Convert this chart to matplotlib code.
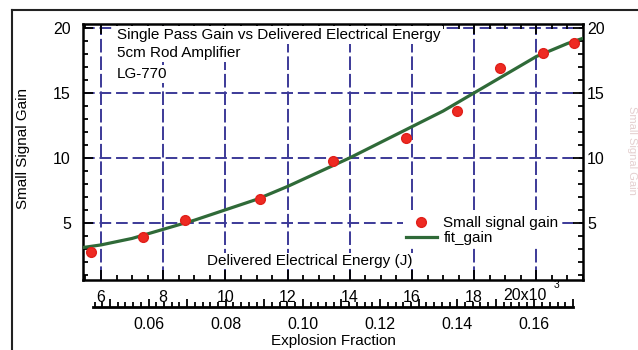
import numpy as np
import matplotlib.pyplot as plt
from matplotlib.lines import Line2D
from matplotlib.ticker import MultipleLocator, FixedLocator, FuncFormatter

plt.rcParams['font.family'] = ['Liberation Sans', 'DejaVu Sans']

# measured points (delivered energy in J, small signal gain)
energy = [5680, 7350, 8700, 11110, 13460, 15810, 17450, 18840, 20200, 21200]
gain = [2.77, 3.92, 5.23, 6.85, 9.77, 11.54, 13.6, 16.9, 18.1, 18.85]

# fit curve
fit_energy = [5420, 6000, 7000, 8000, 9000, 10000, 11000, 12000, 13000,
              14000, 15000, 16000, 17000, 18000, 19000, 20000, 21000, 21500]
fit_gain = [3.1, 3.3, 3.8, 4.5, 5.2, 6.0, 6.8, 7.8, 8.9,
            10.0, 11.2, 12.4, 13.6, 15.0, 16.4, 17.8, 18.8, 19.2]

energy_ticks = [6000, 8000, 10000, 12000, 14000, 16000, 18000]
energy_labels = ['6', '8', '10', '12', '14', '16', '18']
gain_ticks = [5, 10, 15, 20]
frac_ticks = [0.06, 0.08, 0.10, 0.12, 0.14, 0.16]
title_lines = ['Single Pass Gain vs Delivered Electrical Energy',
               '5cm Rod Amplifier', 'LG-770']

W, H = 638, 350
fs = 11
tfs = 11.5
fig = plt.figure(figsize=(W / 100, H / 100), dpi=100)

gridc = '#3c3a98'
ax = fig.add_axes([83 / W, (H - 280) / H, 500 / W, 256 / H])
ax.set_xlim(5420, 21500)
ax.set_ylim(0.6, 20.3)

for e in energy_ticks + [20000]:
    ax.axvline(e, color=gridc, lw=1.4, ls=(0, (7, 2)), zorder=1)
for g in gain_ticks:
    ax.axhline(g, color=gridc, lw=1.4, ls=(0, (6, 2.5)), zorder=1)

ax.plot(fit_energy, fit_gain, color='#2f6a38', lw=2.3, zorder=3, label='fit_gain')
ax.plot(energy, gain, ls='none', marker='o', ms=7, color='#ee2a22',
        mec='#e0201a', zorder=4, label='Small signal gain')

for s in ax.spines.values():
    s.set_linewidth(1.8)

ax.xaxis.set_major_locator(FixedLocator(energy_ticks + [20000]))
ax.xaxis.set_minor_locator(MultipleLocator(500))
ax.set_xticklabels(energy_labels + [''])
ax.yaxis.set_major_locator(FixedLocator(gain_ticks))
ax.yaxis.set_minor_locator(MultipleLocator(1))
ax.set_yticklabels([str(g) for g in gain_ticks])
ax.tick_params(which='both', direction='in', top=True, right=True,
               labelright=True, width=1.3, labelsize=tfs)
ax.tick_params(which='major', length=7)
ax.tick_params(which='minor', length=3.5)
ax.tick_params(axis='x', pad=7.5)
ax.tick_params(axis='y', pad=3)
for t in ax.yaxis.get_major_ticks():
    t.label1.set_x(-8 / 500)

ax.annotate('20x10', xy=(20000, 0), xycoords=('data', 'axes fraction'),
            xytext=(-8.5, -11), textcoords='offset points', ha='center',
            va='center', fontsize=tfs)
ax.annotate('3', xy=(20000, 0), xycoords=('data', 'axes fraction'),
            xytext=(14.5, -3.6), textcoords='offset points', ha='center',
            va='center', fontsize=7.5)

for txt, yp in zip(title_lines, [35, 53, 74]):
    ax.text(0.068, (280 - yp) / 256, txt, transform=ax.transAxes, fontsize=fs,
            va='center', ha='left', zorder=5,
            bbox=dict(fc='white', ec='none', pad=1.5))

ax.text(0.454, 0.074, 'Delivered Electrical Energy (J)', transform=ax.transAxes,
        fontsize=fs, ha='center', va='center', zorder=5,
        bbox=dict(fc='white', ec='none', pad=1))

ax.set_ylabel('Small Signal Gain', fontsize=fs)
ax.yaxis.label.set_va('center')
ax.yaxis.set_label_coords(-0.12, 0.512)

h, l = ax.get_legend_handles_labels()
leg = ax.legend(h[::-1], l[::-1], loc='upper left', bbox_to_anchor=(0.64, 0.26),
                fontsize=fs, frameon=True, fancybox=False, framealpha=1,
                edgecolor='none', numpoints=1, handlelength=2.0,
                handletextpad=0.45, labelspacing=0.05, borderpad=0.2,
                borderaxespad=0)
leg.set_zorder(6)

# explosion fraction axis below the plot
ax2 = fig.add_axes([93 / W, (H - 307) / H, 480 / W, 0.0001])
ax2.set_xlim(0.0456, 0.1700)
for k in ['top', 'left', 'right']:
    ax2.spines[k].set_visible(False)
ax2.spines['bottom'].set_linewidth(2)
ax2.set_yticks([])
ax2.xaxis.set_major_locator(MultipleLocator(0.01))
ax2.xaxis.set_minor_locator(MultipleLocator(0.002))
ax2.xaxis.set_major_formatter(FuncFormatter(
    lambda v, p: f'{v:.2f}' if any(abs(v - f) < 1e-6 for f in frac_ticks) else ''))
ax2.tick_params(which='both', direction='in', width=1.3, labelsize=tfs, pad=7)
ax2.tick_params(which='major', length=6)
ax2.tick_params(which='minor', length=3.5)
ax2.set_xlabel('Explosion Fraction', fontsize=fs, labelpad=1.5)
ax2.patch.set_visible(False)

# outer frame
fig.add_artist(Line2D([12 / W, 1], [1 - 10 / H, 1 - 10 / H], color='#222222', lw=1.5))
fig.add_artist(Line2D([12 / W, 12 / W], [0, 1 - 10 / H], color='#222222', lw=1.5))

# faint label at the right edge
fig.text(637 / W, 0.57, 'Small Signal Gain', rotation=-90, fontsize=8,
         color='#c9a0a0', ha='right', va='center', alpha=0.5)

fig.savefig('out.png', dpi=100)
